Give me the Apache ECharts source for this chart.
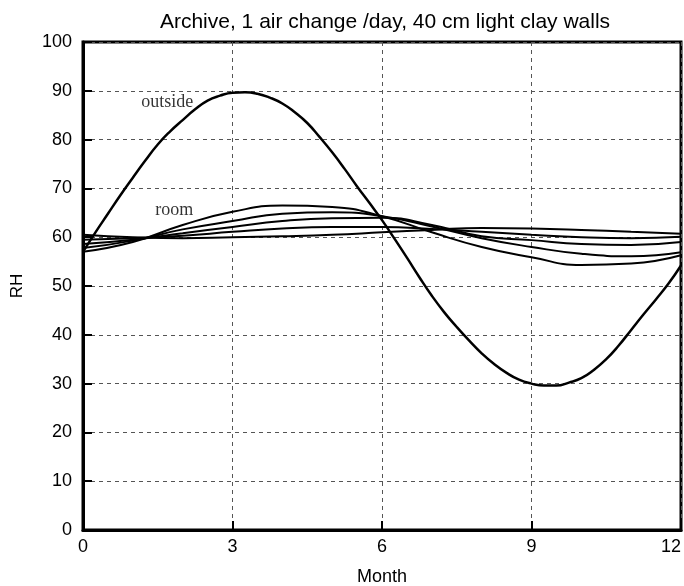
<!DOCTYPE html>
<html>
<head>
<meta charset="utf-8">
<script src="https://cdn.jsdelivr.net/npm/echarts@6/dist/echarts.min.js"></script>
<style>html,body{margin:0;padding:0;background:#fff}#c{width:684px;height:586px}</style>
</head>
<body>
<div id="c"></div>
<script>
const titleText = 'Archive, 1 air change /day, 40 cm light clay walls';
const xName = 'Month';
const yName = 'RH';
const xTicks = [0, 3, 6, 9, 12];

const outsideMonths = [0,0.25,0.5,0.75,1,1.25,1.5,1.75,2,2.25,2.5,2.75,3,3.25,3.5,3.75,4,4.25,4.5,4.75,5,5.25,5.5,5.75,6,6.25,6.5,6.75,7,7.25,7.5,7.75,8,8.25,8.5,8.75,9,9.25,9.5,9.75,10,10.25,10.5,10.75,11,11.25,11.5,11.75,12];
const outsideRH = [57.0,61.0,64.8,68.6,72.2,75.7,79.0,81.7,84.0,86.2,88.0,89.0,89.6,89.7,89.4,88.6,87.4,85.6,83.4,80.5,77.4,74.0,70.4,67.0,63.5,59.7,55.8,51.8,48.0,44.6,41.6,38.8,36.2,34.0,32.2,30.8,30.0,29.6,29.6,30.2,31.1,32.8,35.0,37.8,41.0,44.2,47.3,50.5,54.2];

const roomMonths = [0,1,2,3,4,5,6,7,8,9,10,11,12];
const roomA = [57.0,59.0,62.5,65.2,66.5,66.2,64.3,61.0,58.0,55.9,54.3,54.6,56.3];
const roomB = [57.8,59.3,61.6,63.3,64.8,65.1,64.3,62.2,59.8,58.0,56.6,56.1,56.9];
const roomC = [58.6,59.5,60.8,62.1,63.3,63.9,64.0,62.5,60.2,59.4,58.6,58.4,59.0];
const roomD = [59.5,59.8,60.3,61.1,61.8,62.1,62.1,61.7,61.1,60.5,60.0,59.8,60.1];
const roomE = [60.5,60.0,59.8,60.0,60.2,60.5,61.0,61.5,61.9,61.8,61.5,61.1,60.7];

const labelTexts = ['outside', 'room'];
const labelPos = [[1.69, 87.6], [1.83, 65.6]];

const pairs = (xs, ys) => xs.map((x, i) => [x, ys[i]]);
const roomSets = [roomA, roomB, roomC, roomD, roomE];

const series = [{
  type: 'line', data: pairs(outsideMonths, outsideRH), smooth: true, showSymbol: false,
  lineStyle: {color: '#000', width: 2.5}, z: 5
}];
roomSets.forEach(r => series.push({
  type: 'line', data: pairs(roomMonths, r), smooth: true, showSymbol: false,
  lineStyle: {color: '#000', width: 2}, z: 4
}));
series.push({
  type: 'scatter', symbolSize: 0, silent: true,
  data: labelPos.map((p, i) => ({value: p, name: labelTexts[i]})),
  label: {show: true, position: 'inside', formatter: p => p.name,
    fontFamily: 'Liberation Serif', fontSize: 18, color: '#000'}
});

const chart = echarts.init(document.getElementById('c'), null, {renderer: 'canvas'});
chart.setOption({
  animation: false,
  backgroundColor: '#fff',
  title: {text: titleText, left: 380, top: 7, textAlign: 'center',
    textStyle: {fontFamily: 'Liberation Sans', fontSize: 21, fontWeight: 'normal', color: '#000'}},
  grid: {left: 83, right: 3, top: 42, bottom: 56, outerBoundsMode: 'none', containLabel: false,
    show: true, borderColor: '#000', borderWidth: 3, backgroundColor: 'transparent'},
  xAxis: {
    type: 'value', min: 0, max: 12, interval: 3,
    name: xName, nameLocation: 'middle', nameGap: 38,
    nameTextStyle: {fontFamily: 'Liberation Sans', fontSize: 18, color: '#000'},
    axisLine: {show: true, lineStyle: {color: '#000', width: 3}},
    axisTick: {show: true, inside: true, length: 9, lineStyle: {color: '#000', width: 2}},
    axisLabel: {fontFamily: 'Liberation Sans', fontSize: 18, color: '#000', margin: 8, alignMaxLabel: 'right',
      formatter: v => xTicks.includes(v) ? String(v) : ''},
    splitLine: {show: true, lineStyle: {color: '#555', type: [4, 4], width: 1}}
  },
  yAxis: {
    type: 'value', min: 0, max: 100, interval: 10,
    name: yName, nameLocation: 'middle', nameGap: 57, nameRotate: 90,
    nameTextStyle: {fontFamily: 'Liberation Sans', fontSize: 17, color: '#000'},
    axisLine: {show: true, lineStyle: {color: '#000', width: 3}},
    axisTick: {show: true, inside: true, length: 9, lineStyle: {color: '#000', width: 2}},
    axisLabel: {fontFamily: 'Liberation Sans', fontSize: 18, color: '#000', margin: 11},
    splitLine: {show: true, lineStyle: {color: '#555', type: [4, 4], width: 1}}
  },
  series: series
});
</script>
</body>
</html>
